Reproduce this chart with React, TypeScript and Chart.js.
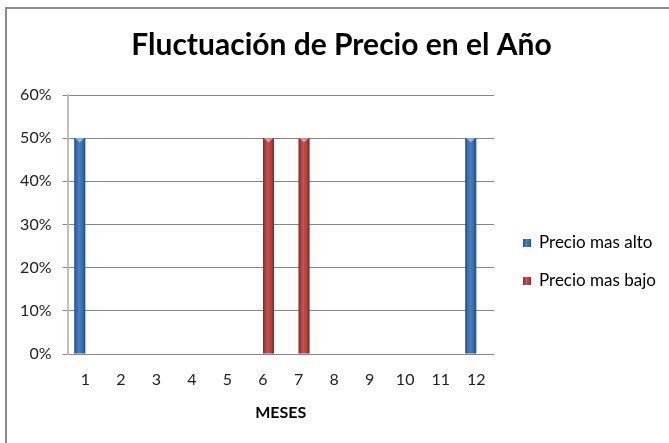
import React, { useEffect, useRef } from "react";
import { Chart, registerables } from "chart.js";

Chart.register(...registerables);

const chartTitle = "Fluctuación de Precio en el Año";
const xAxisTitle = "MESES";
const categories = ["1", "2", "3", "4", "5", "6", "7", "8", "9", "10", "11", "12"];
const seriesNames = ["Precio mas alto", "Precio mas bajo"];
const precioMasAlto = [0.5, 0, 0, 0, 0, 0, 0, 0, 0, 0, 0, 0.5];
const precioMasBajo = [0, 0, 0, 0, 0, 0.5, 0.5, 0, 0, 0, 0, 0];
const yMin = 0;
const yMax = 0.6;
const yStep = 0.1;

const seriesColors = ["#3C74BE", "#BC4542"];
const FONT = 'Lato, "Open Sans", "Noto Sans", sans-serif';

function shadeRect(ctx: CanvasRenderingContext2D, left: number, top: number, w: number, h: number) {
  const g = ctx.createLinearGradient(left, 0, left + w, 0);
  g.addColorStop(0, "rgba(0,0,0,0.35)");
  g.addColorStop(0.22, "rgba(0,0,0,0.06)");
  g.addColorStop(0.45, "rgba(255,255,255,0.10)");
  g.addColorStop(0.7, "rgba(0,0,0,0.02)");
  g.addColorStop(1, "rgba(0,0,0,0.38)");
  ctx.fillStyle = g;
  ctx.fillRect(left, top, w, h);
}

const barShading = {
  id: "barShading",
  afterDatasetsDraw(chart: any) {
    const ctx = chart.ctx as CanvasRenderingContext2D;
    ctx.save();
    chart.data.datasets.forEach((ds: any, di: number) => {
      const meta = chart.getDatasetMeta(di);
      meta.data.forEach((el: any, i: number) => {
        const v = ds.data[i];
        if (!v) return;
        const { x, y, base, width } = el.getProps(["x", "y", "base", "width"], true);
        const left = x - width / 2;
        shadeRect(ctx, left, y, width, base - y);
        ctx.fillStyle = "rgba(255,255,255,0.45)";
        ctx.beginPath();
        ctx.moveTo(left + 1, y);
        ctx.lineTo(left + width - 1, y);
        ctx.lineTo(x, y + width / 2.5);
        ctx.closePath();
        ctx.fill();
      });
    });
    ctx.restore();
  },
};

const sideLegend = {
  id: "sideLegend",
  afterDraw(chart: any) {
    const ctx = chart.ctx as CanvasRenderingContext2D;
    const area = chart.chartArea;
    ctx.save();
    chart.data.datasets.forEach((ds: any, i: number) => {
      const bx = area.right + 29;
      const cy = area.top + 148 + i * 38;
      const s = 8;
      ctx.fillStyle = ds.backgroundColor;
      ctx.fillRect(bx, cy - s / 2, s, s);
      shadeRect(ctx, bx, cy - s / 2, s, s);
      ctx.fillStyle = "#000";
      ctx.font = `17px ${FONT}`;
      ctx.textBaseline = "middle";
      ctx.textAlign = "left";
      ctx.fillText(ds.label, bx + 16, cy);
    });
    ctx.restore();
  },
};

export default function App() {
  const canvasRef = useRef<HTMLCanvasElement | null>(null);

  useEffect(() => {
    const canvas = canvasRef.current;
    if (!canvas) return;
    const chart = new Chart(canvas, {
      type: "bar",
      data: {
        labels: categories,
        datasets: [
          { label: seriesNames[0], data: precioMasAlto, backgroundColor: seriesColors[0], borderWidth: 0 },
          { label: seriesNames[1], data: precioMasBajo, backgroundColor: seriesColors[1], borderWidth: 0 },
        ],
      },
      options: {
        responsive: false,
        animation: false,
        devicePixelRatio: 1,
        layout: { padding: { left: 14, right: 0, top: 0, bottom: 0 } },
        datasets: { bar: { categoryPercentage: 0.62, barPercentage: 1.0 } },
        plugins: {
          legend: { display: false },
          tooltip: { enabled: false },
          title: {
            display: true,
            text: chartTitle,
            color: "#000",
            font: { family: FONT, size: 30, weight: "bold" },
            padding: { top: 27, bottom: 32 },
          },
        },
        scales: {
          x: {
            type: "category",
            grid: { display: false, drawTicks: false },
            border: { display: false },
            ticks: { color: "#222", font: { family: FONT, size: 16 }, padding: 16, maxRotation: 0, autoSkip: false },
            title: {
              display: true,
              text: xAxisTitle,
              color: "#000",
              font: { family: FONT, size: 16, weight: "bold" },
              padding: { top: 0, bottom: 21 },
            },
            afterFit: (s: any) => {
              s.height = 89;
            },
          },
          y: {
            type: "linear",
            position: "left",
            min: yMin,
            max: yMax,
            ticks: {
              stepSize: yStep,
              color: "#222",
              font: { family: FONT, size: 16 },
              padding: 11,
              callback: (v: any) => `${Math.round(Number(v) * 100)}%`,
            },
            grid: { color: "#868686", tickLength: 5, drawTicks: true },
            border: { display: true, color: "#BFBFBF", width: 2 },
            afterFit: (s: any) => {
              s.width = 53.5;
            },
          },
          y1: {
            type: "linear",
            position: "right",
            display: true,
            grid: { display: false, drawTicks: false },
            border: { display: false },
            ticks: { display: false },
            afterFit: (s: any) => {
              s.width = 175;
            },
          },
        },
      },
      plugins: [barShading, sideLegend],
    });
    return () => chart.destroy();
  }, []);

  return (
    <div style={{ position: "absolute", left: 0, top: 0, width: 669, height: 443, overflow: "hidden", background: "#fff" }}>
      <div
        style={{
          position: "absolute",
          left: 5,
          top: 7,
          width: 720,
          height: 520,
          border: "2px solid #8C8C8C",
          boxSizing: "border-box",
        }}
      />
      <canvas ref={canvasRef} width={669} height={443} style={{ position: "absolute", left: 0, top: 0, width: 669, height: 443 }} />
    </div>
  );
}
